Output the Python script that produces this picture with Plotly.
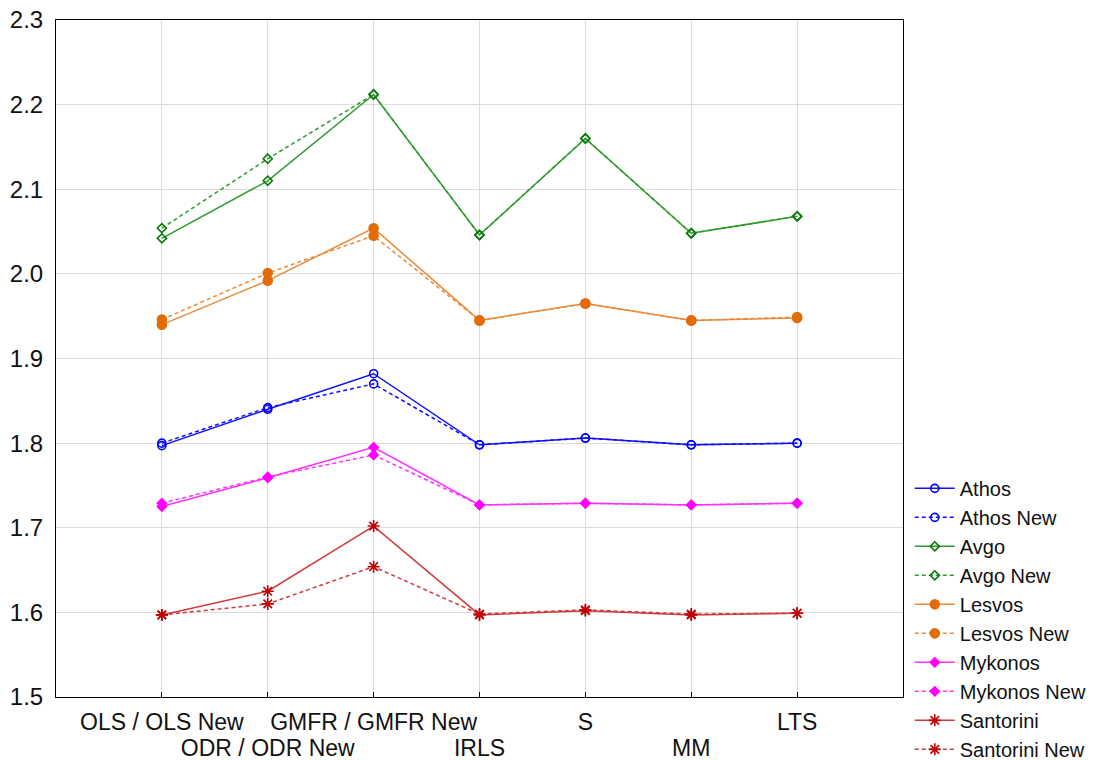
import plotly.graph_objects as go

categories = ["OLS / OLS New", "ODR / ODR New", "GMFR / GMFR New", "IRLS", "S", "MM", "LTS"]

athos = [1.797, 1.840, 1.882, 1.798, 1.806, 1.798, 1.800]
athos_new = [1.800, 1.842, 1.870, 1.798, 1.806, 1.798, 1.800]
avgo = [2.042, 2.110, 2.212, 2.046, 2.160, 2.048, 2.068]
avgo_new = [2.054, 2.136, 2.212, 2.046, 2.160, 2.048, 2.068]
lesvos = [1.940, 1.992, 2.054, 1.945, 1.965, 1.945, 1.948]
lesvos_new = [1.946, 2.001, 2.045, 1.945, 1.965, 1.945, 1.949]
mykonos = [1.725, 1.759, 1.795, 1.727, 1.729, 1.727, 1.729]
mykonos_new = [1.729, 1.760, 1.786, 1.727, 1.729, 1.727, 1.729]
santorini = [1.597, 1.625, 1.702, 1.597, 1.602, 1.597, 1.599]
santorini_new = [1.597, 1.610, 1.654, 1.598, 1.603, 1.598, 1.599]

y_ticks = [1.5, 1.6, 1.7, 1.8, 1.9, 2.0, 2.1, 2.2, 2.3]

series = [
    ("Athos", athos, "solid", "circle-open", "#1010ff", "#0000ff", 8),
    ("Athos New", athos_new, "dash", "circle-open", "#1010ff", "#0000ff", 8),
    ("Avgo", avgo, "solid", "diamond-open", "#2e9a2e", "#0a7a0a", 7),
    ("Avgo New", avgo_new, "dash", "diamond-open", "#2e9a2e", "#0a7a0a", 7),
    ("Lesvos", lesvos, "solid", "circle", "#ea8a3a", "#e06c0a", 9),
    ("Lesvos New", lesvos_new, "dash", "circle", "#ea8a3a", "#e06c0a", 9),
    ("Mykonos", mykonos, "solid", "diamond", "#ff30ff", "#ff00ff", 7),
    ("Mykonos New", mykonos_new, "dash", "diamond", "#ff30ff", "#ff00ff", 7),
    ("Santorini", santorini, "solid", "asterisk-open", "#d03a3a", "#c00000", 10),
    ("Santorini New", santorini_new, "dash", "asterisk-open", "#d03a3a", "#c00000", 10),
]

xs = list(range(len(categories)))
odd_vals = [i for i in xs if i % 2 == 1]

fig = go.Figure()
for name, vals, dash, sym, lc, mc, ms in series:
    fig.add_trace(go.Scatter(
        x=xs, y=vals, name=name, mode="lines+markers",
        line=dict(color=lc, width=1.5, dash=dash if dash == "solid" else "4px,3px"),
        marker=dict(symbol=sym, size=ms, color=mc, line=dict(color=mc, width=1.6)),
    ))
# empty helper trace so the second-row category axis is drawn
fig.add_trace(go.Scatter(x=[], y=[], xaxis="x2", yaxis="y", showlegend=False,
                         hoverinfo="skip", mode="lines"))

fig.update_layout(
    width=1116, height=760,
    margin=dict(l=56, r=213, t=20, b=63, autoexpand=False),
    plot_bgcolor="white", paper_bgcolor="white",
    font=dict(family="Liberation Sans, Arial, sans-serif", size=20, color="#111"),
    showlegend=True,
    legend=dict(x=1.008, xanchor="left", y=0.337, yanchor="top",
                font=dict(size=20, color="#111"), tracegroupgap=0,
                bgcolor="rgba(0,0,0,0)", itemwidth=40),
    xaxis=dict(range=[-1, 7], tickmode="array", tickvals=xs,
               ticktext=[categories[i] if i % 2 == 0 else "" for i in xs],
               tickangle=0, automargin=False, ticklabelstandoff=4,
               showgrid=True, gridcolor="#dcdcdc", gridwidth=1,
               showline=True, linecolor="black", linewidth=1, mirror=True,
               ticks="inside", ticklen=5, tickcolor="black", zeroline=False,
               tickfont=dict(size=23)),
    xaxis2=dict(range=[-1, 7], overlaying="x", anchor="y", side="bottom",
                tickmode="array", tickvals=odd_vals,
                ticktext=[categories[i] for i in odd_vals],
                tickangle=0, automargin=False, ticklabelstandoff=35,
                showgrid=False, showline=False, ticks="", zeroline=False,
                tickfont=dict(size=23)),
    yaxis=dict(range=[1.5, 2.3], tickmode="array", tickvals=y_ticks,
               ticktext=[f"{v:.1f}" for v in y_ticks], automargin=False,
               ticklabelstandoff=7,
               showgrid=True, gridcolor="#dcdcdc", gridwidth=1,
               showline=True, linecolor="black", linewidth=1, mirror=True,
               ticks="", zeroline=False, tickfont=dict(size=24)),
)

fig.write_html("out.html")
